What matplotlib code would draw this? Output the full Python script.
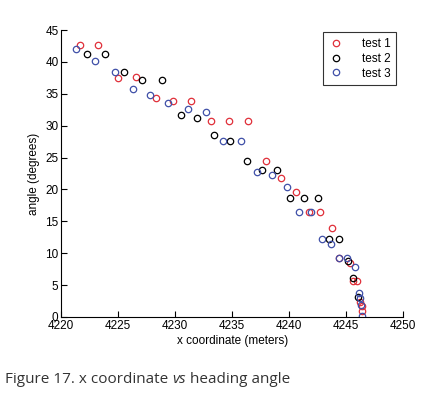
import matplotlib.pyplot as plt

# test 1 (red)
x1 = [4221.6, 4223.25, 4225.0, 4226.6, 4228.3, 4229.8, 4231.4, 4233.1, 4234.7, 4236.4,
      4238.0, 4239.3, 4240.6, 4241.7, 4242.7, 4243.8, 4244.4, 4245.3, 4245.6, 4245.95,
      4246.25, 4246.35, 4246.4]
y1 = [42.6, 42.6, 37.5, 37.6, 34.4, 33.9, 33.9, 30.8, 30.8, 30.8,
      24.45, 21.8, 19.6, 16.4, 16.4, 13.9, 9.25, 8.4, 5.6, 5.6,
      2.4, 1.7, 1.0]

# test 2 (black)
x2 = [4222.25, 4223.8, 4225.5, 4227.1, 4228.8, 4230.5, 4231.9, 4233.4, 4234.85, 4236.3,
      4237.6, 4238.95, 4240.1, 4241.3, 4242.5, 4243.5, 4244.4, 4245.2, 4245.6, 4246.0]
y2 = [41.2, 41.2, 38.45, 37.1, 37.1, 31.7, 31.2, 28.5, 27.6, 24.45,
      23.1, 23.1, 18.65, 18.65, 18.65, 12.3, 12.3, 8.8, 6.1, 3.2]

# test 3 (blue)
x3 = [4221.3, 4223.0, 4224.7, 4226.3, 4227.8, 4229.4, 4231.1, 4232.7, 4234.2, 4235.8,
      4237.2, 4238.5, 4239.8, 4240.9, 4241.9, 4242.9, 4243.7, 4244.4, 4245.1, 4245.8,
      4246.1, 4246.2, 4246.3, 4246.4]
y3 = [42.05, 40.2, 38.45, 35.7, 34.8, 33.5, 32.6, 32.2, 27.6, 27.6,
      22.8, 22.3, 20.4, 16.4, 16.4, 12.3, 11.4, 9.25, 9.25, 7.9,
      3.8, 3.0, 1.9, 0.15]

plt.rcParams['font.family'] = ['Liberation Sans', 'DejaVu Sans']

fig = plt.figure(figsize=(4.33, 3.95), dpi=100)
ax = fig.add_axes([0.1415, 0.1975, 0.7895, 0.7265])

ms = 4.6
ax.plot(x1, y1, 'o', mfc='none', mec='#e0303a', mew=0.9, ms=ms, label='test 1')
ax.plot(x2, y2, 'o', mfc='none', mec='black', mew=0.9, ms=ms, label='test 2')
ax.plot(x3, y3, 'o', mfc='none', mec='#4050a8', mew=0.9, ms=ms, label='test 3')

ax.set_xlim(4220, 4250)
ax.set_ylim(0, 45)
ax.set_xticks(range(4220, 4251, 5))
ax.set_yticks(range(0, 46, 5))
ax.tick_params(direction='in', length=4, width=0.8, labelsize=8.5, pad=2)
for s in ['top', 'right']:
    ax.spines[s].set_visible(False)
for s in ['left', 'bottom']:
    ax.spines[s].set_linewidth(0.8)

ax.set_xlabel('x coordinate (meters)', fontsize=8.5, labelpad=2)
ax.set_ylabel('angle (degrees)', fontsize=8.5, labelpad=4)

leg = ax.legend(loc='upper right', bbox_to_anchor=(0.985, 1.0), fontsize=8.5,
                frameon=True, fancybox=False, edgecolor='black',
                handlelength=1.2, handletextpad=1.6, borderpad=0.45,
                borderaxespad=0.2, labelspacing=0.25)
leg.get_frame().set_linewidth(0.8)

# caption, pieced together so "vs" can be italic
fig.canvas.draw()
r = fig.canvas.get_renderer()
xpos = 5
for piece, st in [('Figure 17. x coordinate ', 'normal'), ('vs', 'italic'), (' heading angle', 'normal')]:
    t = fig.text(xpos / 433, 0.03, piece, fontsize=11, color='#333333',
                 family='Open Sans', style=st, transform=fig.transFigure)
    xpos += t.get_window_extent(r).width

fig.savefig('out.png', dpi=100)
